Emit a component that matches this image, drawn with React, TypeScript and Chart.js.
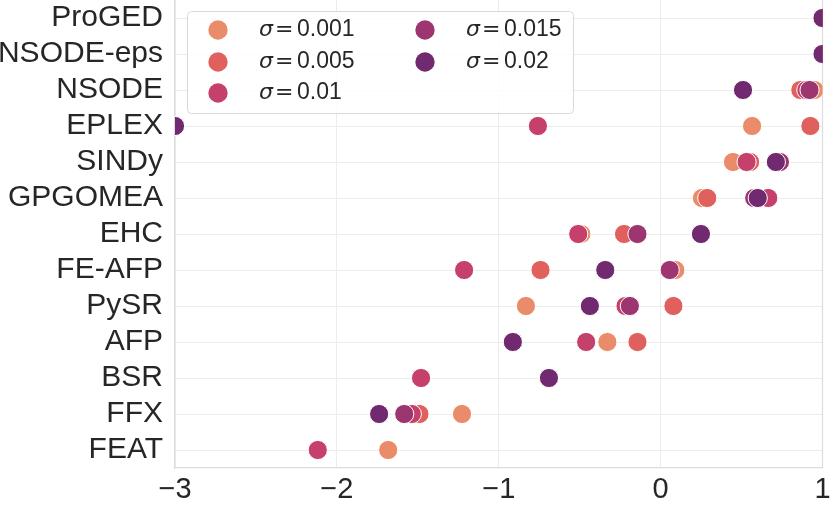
import React, { useEffect, useRef } from 'react';
import { Chart, registerables } from 'chart.js';

Chart.register(...registerables);

const categories = ['ProGED', 'NSODE-eps', 'NSODE', 'EPLEX', 'SINDy', 'GPGOMEA', 'EHC', 'FE-AFP', 'PySR', 'AFP', 'BSR', 'FFX', 'FEAT'];
const sigmaLabels = ['0.001', '0.005', '0.01', '0.015', '0.02'];
const sigmaColors = ['#ea8b6a', '#e0605e', '#c5406a', '#9d3571', '#712a6f'];
const xTicks = [-3, -2, -1, 0, 1];

const sigma001 = [1.0, 1.0, 0.95, 0.565, 0.447, 0.255, -0.49, 0.091, -0.832, -0.329, -1.48, -1.227, -1.683];
const sigma005 = [1.0, 1.0, 0.863, 0.925, 0.553, 0.288, -0.226, -0.742, 0.079, -0.143, -1.48, -1.49, -2.118];
const sigma01 = [1.0, 1.0, 0.9, -0.758, 0.531, 0.665, -0.509, -1.214, -0.217, -0.46, -1.48, -1.537, -2.118];
const sigma015 = [1.0, 1.0, 0.92, -3.0, 0.737, 0.578, -0.143, 0.056, -0.19, -0.91, -0.69, -1.584, null];
const sigma02 = [1.0, 1.0, 0.509, -3.0, 0.712, 0.6, 0.249, -0.342, -0.437, -0.913, -0.69, -1.739, null];

const seriesValues = [sigma001, sigma005, sigma01, sigma015, sigma02];

const FONT = '"Liberation Sans", Arial, sans-serif';
const TEXT = '#262626';

const legendPlugin = {
  id: 'sigmaLegend',
  afterDraw(chart: any) {
    const { ctx, chartArea } = chart;
    const bx = chartArea.left + 12;
    const by = chartArea.top + 11;
    const bw = 386;
    const bh = 102;
    ctx.save();
    ctx.beginPath();
    if (ctx.roundRect) ctx.roundRect(bx + 0.5, by + 0.5, bw, bh, 4);
    else ctx.rect(bx + 0.5, by + 0.5, bw, bh);
    ctx.fillStyle = 'rgba(255,255,255,0.85)';
    ctx.fill();
    ctx.strokeStyle = '#d9d9d9';
    ctx.lineWidth = 1;
    ctx.stroke();

    const rowY = [19, 51, 82];
    const colX = [31, 238];
    chart.data.datasets.forEach((ds: any, i: number) => {
      const col = Math.floor(i / 3);
      const row = i % 3;
      const mx = bx + colX[col];
      const my = by + rowY[row];
      ctx.beginPath();
      ctx.arc(mx, my, 9.7, 0, Math.PI * 2);
      ctx.fillStyle = ds.backgroundColor;
      ctx.fill();
      const tx = mx + 41;
      ctx.fillStyle = TEXT;
      ctx.textBaseline = 'middle';
      ctx.textAlign = 'left';
      ctx.font = 'italic 22px "DejaVu Sans", sans-serif';
      ctx.fillText('\u03c3', tx, my);
      ctx.font = '22px "DejaVu Sans", sans-serif';
      ctx.fillText('=', tx + 16, my);
      ctx.font = '23px ' + FONT;
      ctx.fillText(sigmaLabels[i], tx + 38, my);
    });
    ctx.restore();
  },
};

const rightSpinePlugin = {
  id: 'rightSpine',
  beforeDatasetsDraw(chart: any) {
    const { ctx, chartArea } = chart;
    ctx.save();
    ctx.strokeStyle = '#dcdcdc';
    ctx.lineWidth = 1.25;
    ctx.beginPath();
    ctx.moveTo(chartArea.right, chartArea.top);
    ctx.lineTo(chartArea.right, chartArea.bottom);
    ctx.stroke();
    ctx.restore();
  },
};

export default function App() {
  const canvasRef = useRef<HTMLCanvasElement | null>(null);

  useEffect(() => {
    if (!canvasRef.current) return;
    const datasets = seriesValues.map((vals, i) => ({
      label: '\u03c3 = ' + sigmaLabels[i],
      data: vals
        .map((v, j) => (v === null ? null : { x: v, y: categories[j] }))
        .filter((p) => p !== null),
      backgroundColor: sigmaColors[i],
      borderColor: '#ffffff',
      pointRadius: 9.6,
      pointHoverRadius: 9.6,
      pointBorderWidth: 1,
      pointBorderColor: '#ffffff',
      pointBackgroundColor: sigmaColors[i],
      order: seriesValues.length - i,
      clip: { left: 0, right: 0, top: 30, bottom: 30 },
    }));

    const chart = new Chart(canvasRef.current, {
      type: 'scatter',
      data: { datasets },
      plugins: [rightSpinePlugin, legendPlugin],
      options: {
        animation: false,
        responsive: false,
        events: [],
        layout: { autoPadding: false, padding: { left: 0, right: 8.5, top: 0, bottom: 0 } },
        plugins: {
          legend: { display: false },
          tooltip: { enabled: false },
        },
        scales: {
          x: {
            type: 'linear',
            min: xTicks[0],
            max: xTicks[xTicks.length - 1],
            afterBuildTicks: (scale: any) => {
              scale.ticks = xTicks.map((v) => ({ value: v }));
            },
            ticks: {
              font: { family: FONT, size: 29 },
              color: TEXT,
              padding: 5,
              maxRotation: 0,
              autoSkip: false,
              callback: (v: any) => (Number(v) < 0 ? '\u2212' + Math.abs(Number(v)) : String(v)),
            },
            grid: { color: '#ececec', lineWidth: 1, drawTicks: false },
            border: { display: true, color: '#dcdcdc', width: 1.25 },
            afterFit: (scale: any) => {
              scale.height = 39;
              scale.paddingLeft = 0;
              scale.paddingRight = 0;
            },
          },
          y: {
            type: 'category',
            labels: categories,
            offset: true,
            ticks: {
              font: { family: FONT, size: 30 },
              color: TEXT,
              padding: 12,
              autoSkip: false,
            },
            grid: { color: '#ececec', lineWidth: 1, drawTicks: false },
            border: { display: true, color: '#dcdcdc', width: 1.25 },
            afterFit: (scale: any) => {
              scale.width = 175;
              scale.paddingTop = 0;
              scale.paddingBottom = 0;
            },
          },
        },
      } as any,
    });
    return () => chart.destroy();
  }, []);

  return (
    <div style={{ position: 'fixed', left: 0, top: 0, width: 831, height: 507, background: '#ffffff', overflow: 'hidden' }}>
      <canvas ref={canvasRef} width={831} height={507} style={{ display: 'block' }} />
    </div>
  );
}
